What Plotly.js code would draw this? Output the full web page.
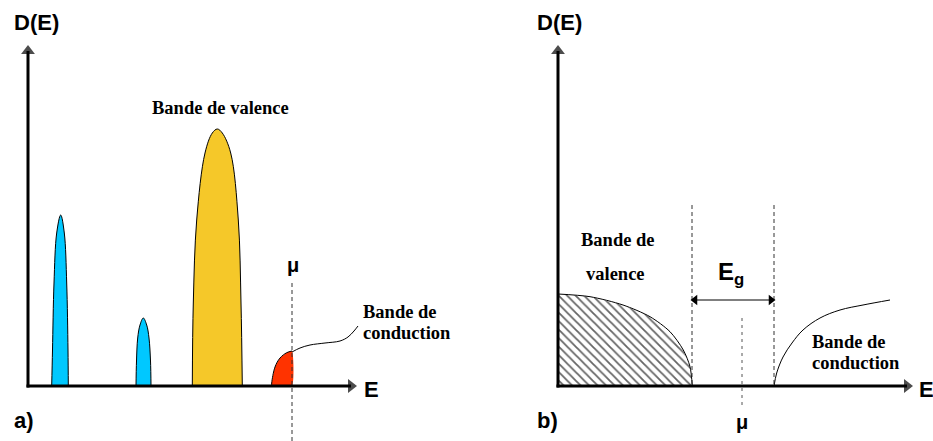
<!DOCTYPE html>
<html>
<head>
<meta charset="utf-8">
<script src="https://cdn.plot.ly/plotly-3.0.1.min.js"></script>
<style>html,body{margin:0;padding:0;background:#fff;}#chart{width:933px;height:441px;}</style>
</head>
<body>
<div id="chart"></div>
<script>
// ---------- Panel a) : metal (units = offset from the panel origin) ----------
const bandA1X = [23.7, 24.5, 26, 28.7, 32.7, 36.3, 38.7, 40, 40.3];
const bandA1Y = [0, 36, 103, 153, 171, 153, 103, 36, 0];
const bandA2X = [108, 108.5, 109.7, 112, 115.3, 118.7, 121, 122.5, 123];
const bandA2Y = [0, 25, 48, 61, 68, 61, 48, 25, 0];
const valenceAX = [164.3, 165.3, 168.7, 177, 184.3, 189.3, 194.3, 202.7, 210.3, 213, 214.3];
const valenceAY = [0, 83, 166, 233, 253, 257, 253, 233, 166, 83, 0];
const conductionAX = [243.7, 243.7, 247, 252, 258.7, 264];
const conductionAY = [0, 3, 19, 28, 33.3, 35];
const leaderAX = [264, 272, 282, 297, 312, 320, 326, 330];
const leaderAY = [34, 38, 41, 43, 45, 49, 55, 60];
const muA = 264;
const axisEndA = [329, 341];   // x-arrow tip, y-arrow tip

// ---------- Panel b) : semiconductor ----------
const valenceBX = [0, 32, 65, 92, 112, 125.3, 132, 134.3];
const valenceBY = [92, 89.3, 81, 69.3, 54.3, 36, 19.3, 0];
const conductionBX = [216, 218.7, 225, 234, 245, 262, 282, 305, 332];
const conductionBY = [0, 13, 29, 43, 56, 68, 76, 81, 86];
const gapEdges = [134, 216];
const gapArrowY = 86;
const muB = 184;
const axisEndB = [355, 341];

// labels
const axisY = "D(E)", axisX = "E";
const panelLabels = ["a)", "b)"];
const txtValence = "Bande de valence";
const txtBandeDe = "Bande de", txtConduction = "conduction", txtValence2 = "valence";
const txtMu = "μ", txtGap = "E<sub>g</sub>";

const SANS = "Liberation Sans, Arial, sans-serif";
const SERIF = "Liberation Serif, Times New Roman, serif";

const traces = [];
function peak(xs, ys, color){
  traces.push({x: xs, y: ys, type:'scatter', mode:'lines', fill:'toself', fillcolor: color,
    line:{color:'#000', width:1, shape:'spline', smoothing:1}, xaxis:'x', yaxis:'y', hoverinfo:'skip'});
}
peak(bandA1X, bandA1Y, '#00C8FF');
peak(bandA2X, bandA2Y, '#00C8FF');
peak(valenceAX, valenceAY, '#F5C829');
// red conduction part (filled up to μ)
traces.push({x: conductionAX.concat([muA, conductionAX[0]]), y: conductionAY.concat([0, 0]), type:'scatter', mode:'lines',
  fill:'toself', fillcolor:'#FF3300', line:{width:0, color:'#FF3300', shape:'spline', smoothing:0.5}, xaxis:'x', yaxis:'y', hoverinfo:'skip'});
traces.push({x: conductionAX, y: conductionAY, type:'scatter', mode:'lines',
  line:{color:'#000', width:1, shape:'spline'}, xaxis:'x', yaxis:'y', hoverinfo:'skip'});
traces.push({x: leaderAX, y: leaderAY, type:'scatter', mode:'lines',
  line:{color:'#000', width:1, shape:'spline'}, xaxis:'x', yaxis:'y', hoverinfo:'skip'});
// μ dashed (a)
traces.push({x:[muA, muA], y:[103, -55], type:'scatter', mode:'lines',
  line:{color:'#333', width:1, dash:'4px,3px'}, xaxis:'x', yaxis:'y', hoverinfo:'skip'});

// panel b hatched valence band (fill, then outline)
traces.push({x: valenceBX.concat([0, 0]), y: valenceBY.concat([0, valenceBY[0]]), type:'scatter', mode:'lines',
  fill:'toself', fillcolor:'#fff',
  fillpattern:{shape:'\\', fgcolor:'#666', bgcolor:'#fff', size:6, solidity:0.3},
  line:{color:'rgba(0,0,0,0)', width:0}, xaxis:'x2', yaxis:'y', hoverinfo:'skip'});
traces.push({x: valenceBX, y: valenceBY, type:'scatter', mode:'lines',
  line:{color:'#000', width:1, shape:'spline', smoothing:0.8}, xaxis:'x2', yaxis:'y', hoverinfo:'skip'});
traces.push({x: conductionBX, y: conductionBY, type:'scatter', mode:'lines',
  line:{color:'#000', width:1, shape:'spline'}, xaxis:'x2', yaxis:'y', hoverinfo:'skip'});
gapEdges.forEach(g => traces.push({x:[g, g], y:[181, 0], type:'scatter', mode:'lines',
  line:{color:'#333', width:1, dash:'4px,3px'}, xaxis:'x2', yaxis:'y', hoverinfo:'skip'}));
traces.push({x:[muB, muB], y:[68, -19], type:'scatter', mode:'lines',
  line:{color:'#555', width:1, dash:'3px,4px'}, xaxis:'x2', yaxis:'y', hoverinfo:'skip'});
// Eg double arrow (marker tips touch the dashed band edges)
traces.push({x:[gapEdges[0] + 3, gapEdges[1] - 3], y:[gapArrowY, gapArrowY], type:'scatter', mode:'lines+markers',
  line:{color:'#000', width:1}, marker:{symbol:['triangle-left','triangle-right'], size:9, color:'#000', line:{width:0}},
  xaxis:'x2', yaxis:'y', hoverinfo:'skip', cliponaxis:false});

// axes with arrow heads
function axes(xr, ends){
  traces.push({x:[0, 0], y:[-1.5, ends[1] - 6], type:'scatter', mode:'lines+markers',
    line:{color:'#000', width:3}, marker:{symbol:['circle','triangle-up'], size:[0, 12], color:'#000', line:{width:0}},
    xaxis:xr, yaxis:'y', hoverinfo:'skip', cliponaxis:false});
  traces.push({x:[-1.5, ends[0] - 6], y:[0, 0], type:'scatter', mode:'lines+markers',
    line:{color:'#000', width:3}, marker:{symbol:['circle','triangle-right'], size:[0, 12], color:'#000', line:{width:0}},
    xaxis:xr, yaxis:'y', hoverinfo:'skip', cliponaxis:false});
}
axes('x', axisEndA);
axes('x2', axisEndB);

const ann = [];
function label(xr, x, y, text, font, size, xanchor){
  ann.push({xref:xr, yref:'y', x:x, y:y, text:text, showarrow:false, xanchor: xanchor || 'center', yanchor:'middle',
    font:{family:font, size:size, color:'#000', weight:'bold'}});
}
label('x', -16, 364, '<b>'+axisY+'</b>', SANS, 22, 'left');
label('x', 334, -3, '<b>'+axisX+'</b>', SANS, 22, 'left');
label('x', -16, -34, '<b>'+panelLabels[0]+'</b>', SANS, 22, 'left');
label('x', 265, 121, '<b>'+txtMu+'</b>', SANS, 20);
label('x', 192, 278, '<b>'+txtValence+'</b>', SERIF, 18.5);
label('x', 333, 74, '<b>'+txtBandeDe+'</b>', SERIF, 18.5, 'left');
label('x', 333, 53, '<b>'+txtConduction+'</b>', SERIF, 18.5, 'left');

label('x2', -23, 364, '<b>'+axisY+'</b>', SANS, 22, 'left');
label('x2', 359, -3, '<b>'+axisX+'</b>', SANS, 22, 'left');
label('x2', -23, -34, '<b>'+panelLabels[1]+'</b>', SANS, 22, 'left');
label('x2', 60, 146, '<b>'+txtBandeDe+'</b>', SERIF, 18.5);
label('x2', 57, 112, '<b>'+txtValence2+'</b>', SERIF, 18.5);
label('x2', 158, 113, '<b>'+txtGap+'</b>', SANS, 24, 'left');
label('x2', muB, -36, '<b>'+txtMu+'</b>', SANS, 20);
label('x2', 252, 44, '<b>'+txtBandeDe+'</b>', SERIF, 18.5, 'left');
label('x2', 252, 23, '<b>'+txtConduction+'</b>', SERIF, 18.5, 'left');

const layout = {
  width:933, height:441, margin:{l:0, r:0, t:0, b:0},
  paper_bgcolor:'#fff', plot_bgcolor:'#fff', showlegend:false,
  xaxis:{domain:[0,1], range:[-28, 905], visible:false, fixedrange:true},
  xaxis2:{domain:[0,1], range:[-558, 375], visible:false, overlaying:'x', anchor:'y', fixedrange:true},
  yaxis:{domain:[0,1], range:[-55, 386], visible:false, fixedrange:true},
  annotations: ann
};
Plotly.newPlot('chart', traces, layout, {staticPlot:true, displayModeBar:false});
</script>
</body>
</html>
